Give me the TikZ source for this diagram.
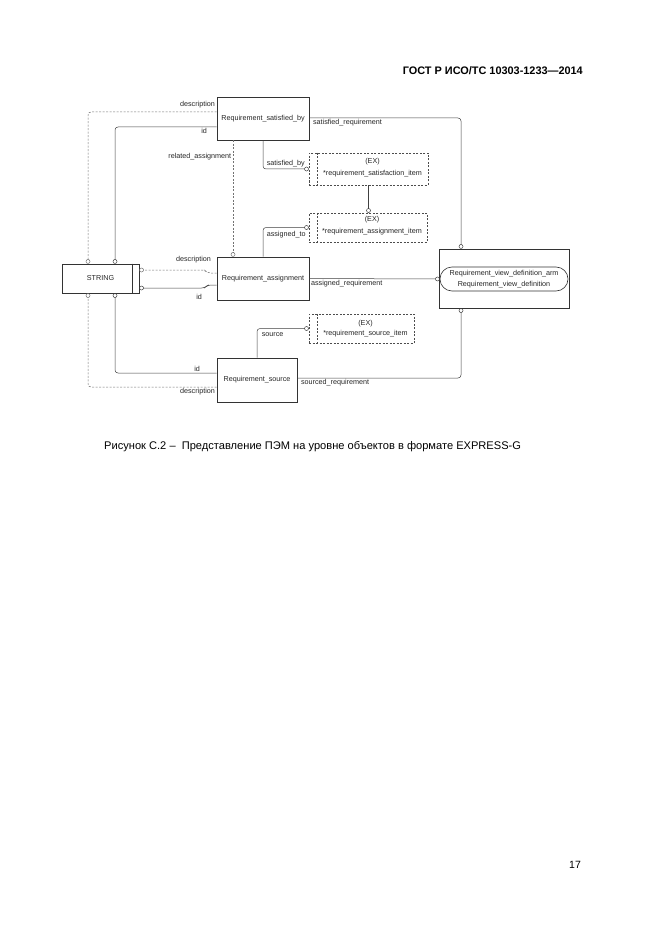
\documentclass[tikz,border=0pt]{standalone}
\usepackage{fontspec}
\setmainfont{Liberation Sans}
\usetikzlibrary{arrows.meta,positioning}
\begin{document}
\begin{tikzpicture}[x=1pt,y=-1pt,ent/.style={rectangle, draw=black!80, line width=0.6pt, inner sep=0pt, minimum width=92pt, minimum height=43pt, text=black!85, font=\fontsize{7.2}{11}\selectfont},ex_box/.style={rectangle, draw=black!70, line width=0.5pt, dash pattern=on 2pt off 1.5pt, inner sep=0pt},ex_text/.style={inner sep=0pt, align=center, text=black!85, font=\fontsize{7.2}{12}\selectfont},attr/.style={draw=black!75, line width=0.5pt, rounded corners=3pt, -{Circle[open,length=4.5pt,width=4.5pt]}},attr_opt/.style={attr, draw=black!55, dash pattern=on 2pt off 1.5pt},lbl/.style={inner sep=1.5pt, text=black!85, font=\fontsize{7.2}{8}\selectfont}]
            \fill[white] (0,0) rectangle (661,936);
            \useasboundingbox (0,0) rectangle (661,936);
            \node[anchor=east, inner sep=0pt, font=\bfseries\fontsize{10.9}{12}\selectfont] (header) at (583,71) {ГОСТ Р ИСО/ТС 10303-1233—2014};
            % entities
            \node[ent] (sat_by) at (263,118.5) {Requirement\_satisfied\_by};
            \node[ent] (assign) at (263,278.5) {Requirement\_assignment};
            \node[ent, minimum width=80pt, minimum height=44pt] (source) at (257,380) {Requirement\_source};
            \node[ent, minimum width=77pt, minimum height=29pt] (string) at (100.5,278.5) {STRING};
            \draw[black!80, line width=0.6pt] ([xshift=-7]string.north east) -- ([xshift=-7]string.south east);
            \node[ent, minimum width=130pt, minimum height=59pt] (view_def) at (504,278.5) {};
            \node[ent, align=center, minimum width=128pt, minimum height=24pt, rounded corners=12pt] (view_name) at (504,279) {Requirement\_view\_definition\_arm\\Requirement\_view\_definition};
            % select types
            \node[ex_box, minimum width=119pt, minimum height=32pt] (ex1) at (368.5,169) {};
            \node[ex_text] (ex1_txt) at ([xshift=4,yshift=1.5]ex1.center) {(EX)\\*requirement\_satisfaction\_item};
            \node[ex_box, minimum width=118pt, minimum height=29pt] (ex2) at (368,227.5) {};
            \node[ex_text] (ex2_txt) at ([xshift=4,yshift=2]ex2.center) {(EX)\\*requirement\_assignment\_item};
            \node[ex_box, minimum width=105pt, minimum height=29pt] (ex3) at (361.5,328.5) {};
            \node[ex_text, font=\fontsize{7.2}{10.5}\selectfont] (ex3_txt) at ([xshift=4]ex3.center) {(EX)\\*requirement\_source\_item};
            \foreach \e in {ex1,ex2,ex3}
                \draw[ex_box] ([xshift=8]\e.north west) -- ([xshift=8]\e.south west);
            % Requirement_satisfied_by
            \draw[attr_opt] ([yshift=6.5]sat_by.west) node[lbl, above left, yshift=2] {description} -| ([xshift=-12.5]string.north);
            \draw[attr] ([yshift=-8.5]sat_by.west) node[lbl, below left, xshift=-8] {id} -| ([xshift=14.5]string.north);
            \draw[attr_opt] ([xshift=-30]sat_by.south) -- node[lbl, left, pos=0.14] {related\_assignment} ([xshift=-30]assign.north);
            \draw[attr] (sat_by.south) |- node[lbl, above right, pos=0.5, xshift=2] {satisfied\_by} (ex1.west);
            \draw[attr] ([yshift=0.5]sat_by.east) node[lbl, below right, xshift=2] {satisfied\_requirement} -| ([xshift=-43]view_def.north);
            \draw[attr] (ex1.south) -- (ex1.south |- ex2.north);
            % Requirement_assignment
            \draw[attr] (assign.north) |- node[lbl, below right, pos=0.5, xshift=2, yshift=-2] {assigned\_to} (ex2.west);
            \draw[attr_opt] ([yshift=5.5]assign.west) node[lbl, anchor=south east, xshift=-4, yshift=8] {description} -- ++(-9,0) -- ++(-3,-3) -- ([yshift=8.5]string.east);
            \draw[attr] ([yshift=-6.5]assign.west) node[lbl, anchor=north east, xshift=-13, yshift=-8] {id} -- ++(-9,0) -- ++(-3,3) -- ([yshift=-9.5]string.east);
            \draw[attr] (assign.east) node[lbl, below right] {assigned\_requirement} -- (view_name.west);
            % Requirement_source
            \draw[attr] (source.north) |- node[lbl, below right, pos=0.5, xshift=3, yshift=-2] {source} (ex3.west);
            \draw[attr] ([yshift=2]source.east) node[lbl, below right, xshift=2] {sourced\_requirement} -| ([xshift=-43]view_def.south);
            \draw[attr] ([yshift=7]source.west) node[lbl, above left, xshift=-15] {id} -| ([xshift=14.5]string.south);
            \draw[attr_opt] ([yshift=-7]source.west) node[lbl, below left] {description} -| ([xshift=-12.5]string.south);
            \node[anchor=west, inner sep=0pt, font=\fontsize{11.1}{13}\selectfont] (caption) at (104,447) {Рисунок С.2 –\ \ Представление ПЭМ на уровне объектов в формате EXPRESS-G};
            \node[font=\fontsize{10.5}{12}\selectfont] (page) at (575,865) {17};
        \end{tikzpicture}
\end{document}
